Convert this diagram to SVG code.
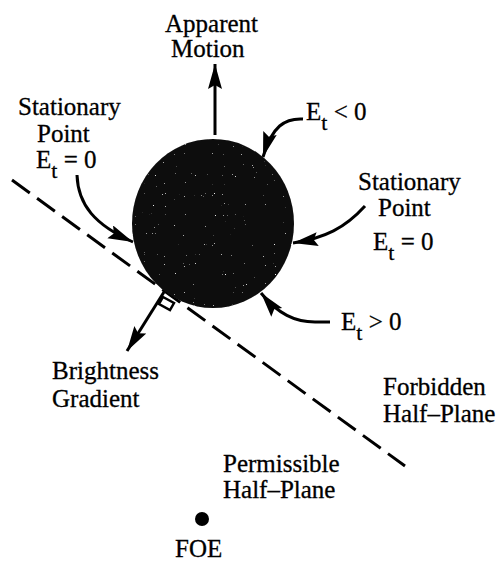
<svg xmlns="http://www.w3.org/2000/svg" width="503" height="563" viewBox="0 0 503 563">
<style>
text { font-family: "Liberation Serif", "Times New Roman", serif; font-size: 25px; fill: #000; stroke: #000; stroke-width: 0.3; }
.sub { font-size: 22px; }
.conn { fill: none; stroke: #000; stroke-width: 3; }
.dash { fill: none; stroke: #000; stroke-width: 3; stroke-dasharray: 22 9; }
</style>
<defs>
<marker id="ah" markerUnits="userSpaceOnUse" markerWidth="28" markerHeight="16" refX="25" refY="7" orient="auto">
<path d="M0,0 L25,7 L0,14 L4,7 Z" fill="#000"/>
</marker>
<filter id="speckle" x="0" y="0" width="100%" height="100%">
<feTurbulence type="fractalNoise" baseFrequency="0.9" numOctaves="1" seed="3" result="n"/>
<feColorMatrix in="n" type="matrix" values="0 0 0 0 1  0 0 0 0 1  0 0 0 0 1  10 0 0 0 -7.4" result="dots"/>
<feComposite in="dots" in2="SourceGraphic" operator="atop"/>
</filter>
</defs>
<rect width="503" height="563" fill="#fff"/>
<g id="half-plane-boundary">
<path class="dash" d="M12,180 L405,466"/>
</g>
<g id="contour">
<ellipse cx="213" cy="223.5" rx="81" ry="84.5" fill="#0a0a0a" filter="url(#speckle)"/>
</g>
<g id="connectors">
<path class="conn" d="M215,135 L215,64" marker-end="url(#ah)"/>
<path class="conn" d="M303,119 C285,118 272,126 263,157" marker-end="url(#ah)"/>
<path class="conn" d="M77,175 C78,205 95,225 133,242" marker-end="url(#ah)"/>
<path class="conn" d="M365,206 C345,228 325,238 293,243" marker-end="url(#ah)"/>
<path class="conn" d="M330,322 L315,322 C295,322 278,314 261,293" marker-end="url(#ah)"/>
<path class="conn" d="M164,292 L127,351" marker-end="url(#ah)"/>
<polygon points="163,297 174,303 170,310 159,304" fill="#fff" stroke="#000" stroke-width="2.5"/>
</g>
<g id="apparent-motion">
<text x="165" y="32">Apparent</text>
<text x="171" y="57">Motion</text>
</g>
<g id="stationary-left">
<text x="18" y="115">Stationary</text>
<text x="37" y="142">Point</text>
<text x="36" y="168">E<tspan class="sub" dy="10">t</tspan><tspan dy="-10"> = 0</tspan></text>
</g>
<g id="et-negative">
<text x="306" y="120">E<tspan class="sub" dy="10">t</tspan><tspan dy="-10"> &lt; 0</tspan></text>
</g>
<g id="stationary-right">
<text x="358" y="190">Stationary</text>
<text x="378" y="216">Point</text>
<text x="373" y="250">E<tspan class="sub" dy="10">t</tspan><tspan dy="-10"> = 0</tspan></text>
</g>
<g id="et-positive">
<text x="341" y="330">E<tspan class="sub" dy="10">t</tspan><tspan dy="-10"> &gt; 0</tspan></text>
</g>
<g id="brightness-gradient">
<text x="52" y="379">Brightness</text>
<text x="52" y="407">Gradient</text>
</g>
<g id="forbidden">
<text x="383" y="395">Forbidden</text>
<text x="383" y="422">Half–Plane</text>
</g>
<g id="permissible">
<text x="223" y="472">Permissible</text>
<text x="223" y="498">Half–Plane</text>
</g>
<g id="foe">
<circle cx="202" cy="519" r="7" fill="#000"/>
<text x="175" y="557">FOE</text>
</g>
</svg>
